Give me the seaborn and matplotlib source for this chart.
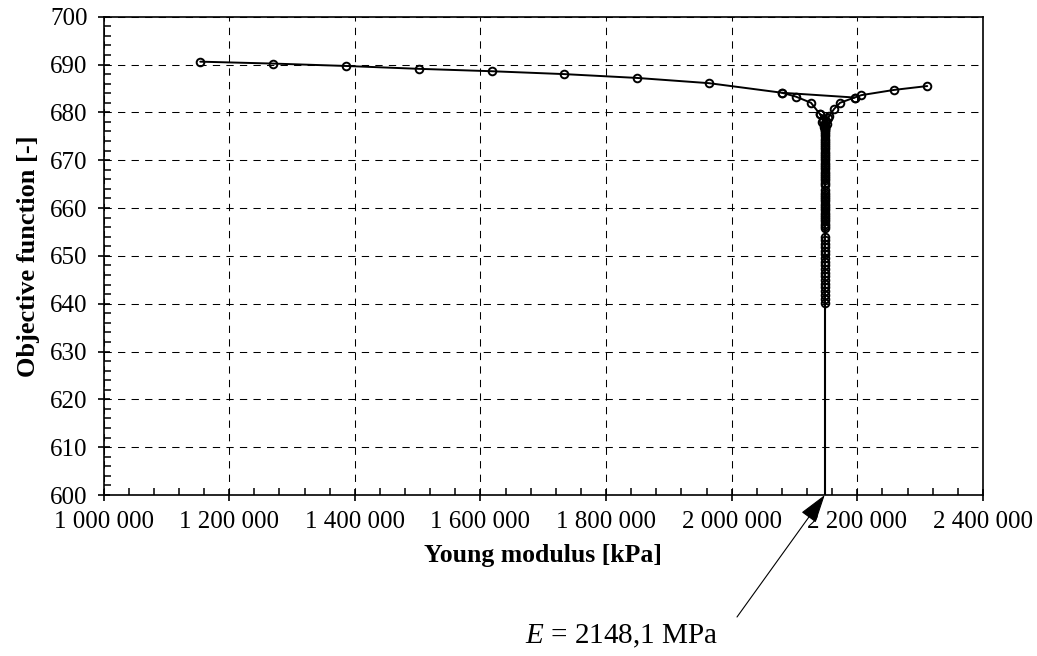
import matplotlib
matplotlib.use("Agg")
import matplotlib.pyplot as plt
from matplotlib.ticker import MultipleLocator, FuncFormatter
import pandas as pd
import seaborn as sns

# grid scan of the Young modulus
scan_E = [1154000, 1270000, 1386000, 1502000, 1618000, 1733000, 1849000,
          1964000, 2080000, 2195600, 2206400, 2258800, 2311200]
scan_obj = [690.6, 690.2, 689.7, 689.1, 688.6, 688.0, 687.2,
            686.1, 684.1, 683.1, 683.6, 684.7, 685.5]

# refinement arms converging on the optimum
left_E = [2080000, 2102000, 2126200, 2140600, 2144800, 2147000, 2148100]
left_obj = [684.1, 683.3, 682.0, 679.6, 678.4, 677.4, 676.8]
right_E = [2195600, 2172400, 2162900, 2155500, 2150800, 2149000, 2148100]
right_obj = [683.1, 682.0, 680.7, 679.3, 678.2, 677.2, 676.8]
inner_E = [2140600, 2154000, 2144000, 2151500, 2146500, 2148100]
inner_obj = [679.6, 678.9, 678.0, 677.6, 677.0, 676.3]

# iterations at the optimum E = 2148,1 MPa
opt_E = 2148100
opt_obj = [676.8, 676.3, 675.9, 675.4, 675.0, 674.5, 674.1, 673.6, 673.2, 672.7,
           672.3, 671.8, 671.3, 670.9, 670.4, 670.0, 669.5, 669.0, 668.6, 668.1,
           667.6, 667.2, 666.7, 666.2, 665.8, 665.3, 664.9,
           663.7, 663.2, 662.8, 662.3, 661.9, 661.4, 660.9, 660.5, 660.0, 659.5,
           659.0, 658.6, 658.1, 657.6, 657.2, 656.7, 656.2, 655.8,
           654.0, 653.3, 652.5, 651.8, 651.0, 650.3, 649.5, 648.8, 648.0, 647.2,
           646.5, 645.7, 645.0, 644.2, 643.4, 642.6, 641.8, 641.0, 640.1]
drop_obj = [640.1, 600.0]

sns.set_theme(style="ticks")
plt.rcParams['font.family'] = ['Liberation Serif', 'DejaVu Serif']
plt.rcParams['mathtext.fontset'] = 'custom'
plt.rcParams['mathtext.rm'] = 'Liberation Serif'
plt.rcParams['mathtext.it'] = 'Liberation Serif:italic'
plt.rcParams['text.color'] = 'black'
plt.rcParams['axes.labelcolor'] = 'black'

fig = plt.figure(figsize=(10.37, 6.56), dpi=100)
ax = fig.add_axes([103.5 / 1037, 1 - 495 / 656, (983 - 103.5) / 1037, (495 - 16.7) / 656])

line_kw = dict(color='black', linewidth=1.4, marker='o', markersize=5.5,
               markerfacecolor='none', markeredgecolor='black', markeredgewidth=1.4,
               sort=False, estimator=None, legend=False, ax=ax)

paths = [
    (scan_E, scan_obj),
    (left_E, left_obj),
    (right_E, right_obj),
    (inner_E, inner_obj),
    ([opt_E] * len(opt_obj), opt_obj),
]
for xs, ys in paths:
    df = pd.DataFrame({'E': xs, 'obj': ys})
    sns.lineplot(data=df, x='E', y='obj', **line_kw)

drop = pd.DataFrame({'E': [opt_E, opt_E], 'obj': drop_obj})
sns.lineplot(data=drop, x='E', y='obj', color='black', linewidth=1.5,
             sort=False, estimator=None, legend=False, ax=ax)

ax.set_xlim(1000000, 2400000)
ax.set_ylim(600, 700)
ax.xaxis.set_major_locator(MultipleLocator(200000))
ax.xaxis.set_minor_locator(MultipleLocator(40000))
ax.yaxis.set_major_locator(MultipleLocator(10))
ax.yaxis.set_minor_locator(MultipleLocator(2))
ax.xaxis.set_major_formatter(FuncFormatter(lambda v, p: f"{v:,.0f}".replace(",", " ")))

ax.grid(True, which='major', color='black', linestyle=(0, (7, 6)), linewidth=0.75)
for s in ax.spines.values():
    s.set_visible(True)
    s.set_color('black')
    s.set_linewidth(1.2)

ax.tick_params(axis='both', which='major', direction='inout', length=9, width=1.2,
               color='black', labelsize=18, labelcolor='black', pad=7)
ax.tick_params(axis='both', which='minor', direction='in', length=5, width=1.1,
               color='black')

ax.set_xlabel('Young modulus [kPa]', fontsize=18.5, fontweight='bold', labelpad=8,
              color='black')
ax.set_ylabel('Objective function [-]', fontsize=19, fontweight='bold', labelpad=7,
              color='black')

# arrow pointing to the optimum
ax.annotate('', xy=(opt_E, 600), xycoords='data',
            xytext=(737, 656 - 617), textcoords='figure pixels',
            arrowprops=dict(arrowstyle='-|>,head_length=0.9,head_width=0.28',
                            mutation_scale=20, color='black', lw=0.8,
                            shrinkA=0, shrinkB=0),
            annotation_clip=False)
fig.text(622 / 1037, 1 - 636 / 656, '$E$ = 2148,1 MPa', fontsize=21,
         ha='center', va='center', color='black')

fig.savefig('out.png', dpi=100)
